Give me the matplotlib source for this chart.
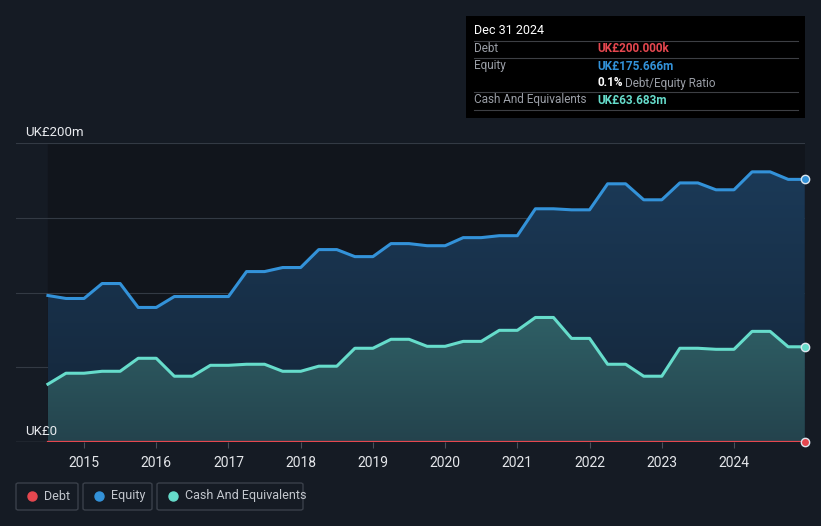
import numpy as np
import matplotlib.pyplot as plt
from matplotlib.patches import FancyBboxPatch, Rectangle

plt.rcParams['font.family'] = ['Roboto', 'DejaVu Sans']

# quarterly points (decimal years), values in UK£m
dates = [2014.50, 2014.75, 2015.00, 2015.25, 2015.50, 2015.75, 2016.00, 2016.25,
         2016.50, 2016.75, 2017.00, 2017.25, 2017.50, 2017.75, 2018.00, 2018.25,
         2018.50, 2018.75, 2019.00, 2019.25, 2019.50, 2019.75, 2020.00, 2020.25,
         2020.50, 2020.75, 2021.00, 2021.25, 2021.50, 2021.75, 2022.00, 2022.25,
         2022.50, 2022.75, 2023.00, 2023.25, 2023.50, 2023.75, 2024.00, 2024.25,
         2024.50, 2024.75, 2024.98]
equity = [98.0, 96.0, 96.0, 106.0, 106.0, 90.0, 90.0, 97.3,
          97.3, 97.3, 97.3, 114.0, 114.0, 116.7, 116.7, 128.7,
          128.7, 124.0, 124.0, 132.7, 132.7, 131.3, 131.3, 136.7,
          136.7, 138.0, 138.0, 156.0, 156.0, 155.3, 155.3, 172.7,
          172.7, 162.0, 162.0, 173.3, 173.3, 168.7, 168.7, 180.7,
          180.7, 175.666, 175.666]
cash = [38.7, 46.0, 46.0, 47.3, 47.3, 56.0, 56.0, 44.0,
        44.0, 51.3, 51.3, 52.0, 52.0, 47.3, 47.3, 50.7,
        50.7, 62.7, 62.7, 68.7, 68.7, 64.0, 64.0, 67.3,
        67.3, 74.7, 74.7, 83.3, 83.3, 69.3, 69.3, 52.0,
        52.0, 44.0, 44.0, 62.7, 62.7, 62.0, 62.0, 74.0,
        74.0, 63.683, 63.683]
debt = [0.2] * len(dates)

years = list(range(2015, 2025))
y_ticks = [0, 50, 100, 150, 200]

BG = '#151b24'
PAST = '#11151c'
EQ = '#3392d9'
CASH = '#66dccb'
DEBT = '#e5474f'
GRID = '#333a44'

W, H = 821, 526
fig = plt.figure(figsize=(W / 100, H / 100), dpi=100, facecolor=BG)
ax = fig.add_axes([16 / W, (H - 442) / H, (805 - 16) / W, (442 - 143) / H])
ax.set_facecolor(BG)
ax.set_xlim(2014.058, 2024.983)
ax.set_ylim(0, 200)
for s in ax.spines.values():
    s.set_visible(False)

x = np.array(dates)
eq = np.array(equity)
ca = np.array(cash)

ax.axvspan(x[0], x[-1], color=PAST, zorder=0)

for v in y_ticks[1:]:
    ax.axhline(v, color=GRID, lw=0.8, zorder=1)
ax.axhline(0, color='#4a505a', lw=1, zorder=1)

# gradient fills clipped to the areas
def grad_fill(yvals, top_col, bot_col, ymax):
    poly = ax.fill_between(x, 0, yvals, color='none', zorder=2)
    t = np.linspace(1, 0, 256)[:, None]
    c1 = np.array(plt.matplotlib.colors.to_rgb(top_col))
    c2 = np.array(plt.matplotlib.colors.to_rgb(bot_col))
    img = c2 + (c1 - c2) * t[..., None]
    im = ax.imshow(img, extent=[x[0], x[-1], 0, ymax], aspect='auto',
                   origin='upper', zorder=2)
    im.set_clip_path(poly.get_paths()[0], transform=ax.transData)

grad_fill(eq, '#1b3a58', '#142538', 185)
grad_fill(ca, '#2f6066', '#24434d', 85)

ax.plot(x, eq, color=EQ, lw=2.2, solid_joinstyle='round', zorder=4)
ax.plot(x, ca, color=CASH, lw=2.2, solid_joinstyle='round', zorder=4)
ax.plot(x, debt, color=DEBT, lw=1.6, zorder=4)

for vals, col in [(eq, EQ), (ca, CASH), (debt, DEBT)]:
    ax.plot(x[-1], vals[-1], 'o', ms=6, mfc=col, mec='#dde6ee', mew=1,
            zorder=6, clip_on=False)

ax.set_yticks([])
ax.set_xticks(years)
ax.set_xticklabels([str(y) for y in years], color='#e4e6ea', fontsize=10)
ax.tick_params(axis='x', length=4, color='#4a505a', pad=6)

ax.text(2014.18, 203, 'UK£200m', color='#e8eaee', fontsize=9.5, va='bottom')
ax.text(2014.18, 3, 'UK£0', color='#e8eaee', fontsize=9.5, va='bottom')

# tooltip
def fx(px):
    return px / W


def fy(py):
    return 1 - py / H


fig.patches.append(Rectangle((fx(466), fy(118)), fx(805) - fx(466), fy(16) - fy(118),
                             transform=fig.transFigure, facecolor='#000000',
                             edgecolor='none', zorder=10))
fig.text(fx(474), fy(31), 'Dec 31 2024', color='white', fontsize=9,
         va='center', zorder=11)
for ly in [41, 58, 92, 110]:
    fig.lines.append(plt.Line2D([fx(474), fx(798)], [fy(ly), fy(ly)],
                                transform=fig.transFigure, color='#3d3f44',
                                lw=0.8, zorder=11))
rows = [(49, 'Debt', 'UK£200.000k', DEBT),
        (66, 'Equity', 'UK£175.666m', EQ),
        (100, 'Cash And Equivalents', 'UK£63.683m', CASH)]
for ry, lab, val, col in rows:
    fig.text(fx(474), fy(ry), lab, color='#9a9ea6', fontsize=8.5, va='center', zorder=11)
    fig.text(fx(597), fy(ry), val, color=col, fontsize=8.5, va='center',
             fontweight='bold', zorder=11)
fig.text(fx(597), fy(83), '0.1%', color='white', fontsize=8.5, va='center',
         fontweight='bold', zorder=11)
fig.text(fx(625), fy(83), 'Debt/Equity Ratio', color='#9a9ea6', fontsize=8.5,
         va='center', zorder=11)

# legend boxes
legend = [(16, 78, 'Debt', DEBT), (83, 152, 'Equity', EQ),
          (157, 303, 'Cash And Equivalents', CASH)]
for x0, x1, lab, col in legend:
    fig.patches.append(FancyBboxPatch((fx(x0), fy(510)), fx(x1) - fx(x0), fy(483) - fy(510),
                                      boxstyle='round,pad=0,rounding_size=0.003',
                                      transform=fig.transFigure, facecolor='none',
                                      edgecolor='#3a404a', lw=1))
    fig.lines.append(plt.Line2D([fx(x0 + 16)], [fy(496)], marker='o', ms=6.5,
                                color=col, transform=fig.transFigure, lw=0))
    fig.text(fx(x0 + 28), fy(496), lab, color='#c3c7ce', fontsize=9, va='center')

fig.savefig('out.png', dpi=100, facecolor=BG)
